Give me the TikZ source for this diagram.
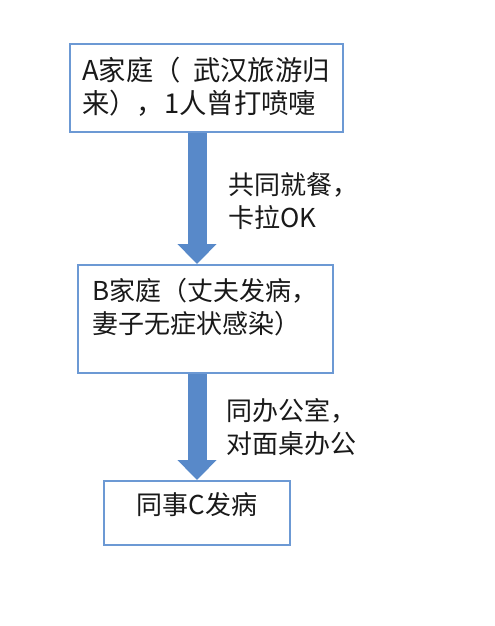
\documentclass[tikz,border=0pt]{standalone}
\usepackage{fontspec}
\setmainfont{Noto Sans CJK SC}
\usetikzlibrary{arrows.meta}
\definecolor{boxblue}{RGB}{108,153,212}
\definecolor{arrowblue}{RGB}{88,137,201}
\definecolor{txtgray}{RGB}{25,25,25}

\begin{document}
\begin{tikzpicture}[x=0.75pt,y=-0.75pt,
    box/.style={draw=boxblue,line width=1.5pt,fill=white,inner sep=0pt},
    txt/.style={inner sep=0pt,align=left,text=txtgray,font=\fontsize{19.5}{24.75}\selectfont},
    flow/.style={draw=arrowblue,line width=14.25pt,-{Triangle[width=28.5pt,length=15pt]}}]
    \useasboundingbox (0,0) rectangle (494,626);
    % boxes
    \node[box,minimum width=204.75pt,minimum height=66pt] (a) at (206.5,88) {};
    \node[box,minimum width=191.25pt,minimum height=81pt] (b) at (205.5,319) {};
    \node[box,minimum width=139.5pt,minimum height=48pt] (c) at (197,513) {};
    \node[txt,anchor=north west,font=\fontsize{20.5}{24.75}\selectfont] (ta) at (82,57) {A家庭（\ \ 武汉旅游归\\来），1人曾打喷嚏};
    \node[txt,anchor=north west] (tb) at (92,278) {B家庭（丈夫发病，\\妻子无症状感染）};
    \node[txt,anchor=north] (tc) at (197,492) {同事C发病};
    % arrows
    \draw[flow] (a.south -| c.north) -- (b.north -| c.north);
    \draw[flow] (b.south -| c.north) -- (c.north);
    \node[txt,anchor=north west] (l1) at (228,172) {共同就餐，\\卡拉OK};
    \node[txt,anchor=north west] (l2) at (226,398) {同办公室，\\对面桌办公};
  \end{tikzpicture}
\end{document}
